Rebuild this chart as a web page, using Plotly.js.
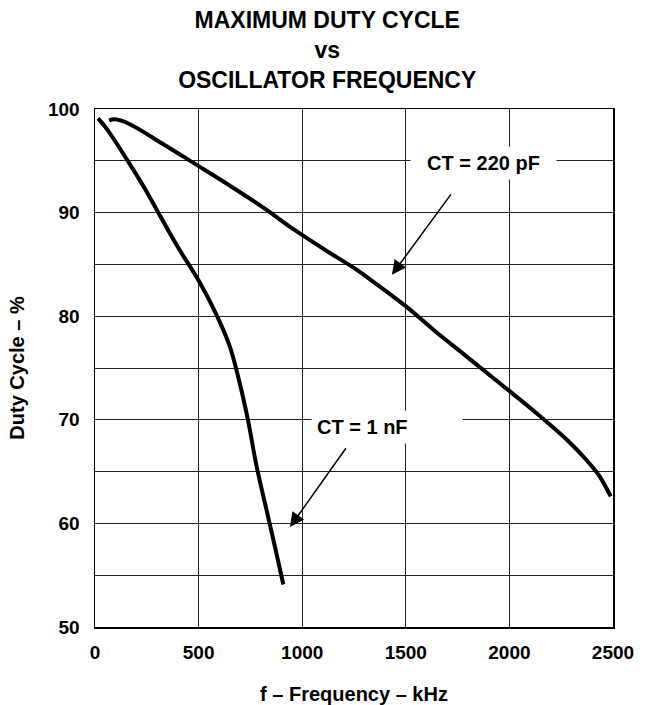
<!DOCTYPE html>
<html>
<head>
<meta charset="utf-8">
<script src="https://cdn.plot.ly/plotly-3.0.1.min.js"></script>
<style>html,body{margin:0;padding:0;background:#fff;}</style>
</head>
<body>
<div id="chart" style="width:648px;height:705px;"></div>
<script>
// CT = 220 pF curve
const freq220 = [68, 97, 161, 322, 483, 643, 804, 965, 1126, 1255, 1311, 1504, 1633, 1794, 1955, 2115, 2276, 2373, 2437, 2489];
const duty220 = [98.9, 99.0, 98.6, 96.7, 94.7, 92.7, 90.6, 88.3, 86.2, 84.6, 83.8, 80.9, 78.7, 76.1, 73.5, 70.9, 68.1, 66.1, 64.5, 62.6];
// CT = 1 nF curve
const freq1n = [15, 56, 161, 241, 322, 402, 507, 587, 652, 700, 740, 780, 829, 869, 909];
const duty1n = [99.1, 98.1, 94.9, 92.3, 89.4, 86.6, 83.2, 80.1, 77.0, 73.4, 69.8, 65.5, 61.2, 57.7, 54.1];

const xTicks = [0, 500, 1000, 1500, 2000, 2500];
const yTicks = [50, 60, 70, 80, 90, 100];

const labels = ['CT = 220 pF', 'CT = 1 nF'];
const labelPos = [[1873, 94.8], [1409, 69.3]];
const arrowTail = [[1723, 91.9], [1216, 67.4]];
const arrowHead = [[1433, 84.0], [941, 59.65]];

const FONT = 'Liberation Sans, Arial, Helvetica, sans-serif';

const traces = [
  {x: freq220, y: duty220, mode: 'lines', line: {color: '#000', width: 4, shape: 'spline', smoothing: 1}, hoverinfo: 'skip'},
  {x: freq1n, y: duty1n, mode: 'lines', line: {color: '#000', width: 4, shape: 'spline', smoothing: 1}, hoverinfo: 'skip'}
];

const annotations = [
  {x: labelPos[0][0], y: labelPos[0][1], xref: 'x', yref: 'y', text: labels[0], showarrow: false,
   bgcolor: '#fff', borderpad: 5, width: 135, font: {size: 20, color: '#000', family: FONT, weight: 'bold'}},
  {x: labelPos[1][0], y: labelPos[1][1], xref: 'x', yref: 'y', text: labels[1], showarrow: false,
   bgcolor: '#fff', borderpad: 5, width: 140, align: 'left', font: {size: 20, color: '#000', family: FONT, weight: 'bold'}}
];
for (let i = 0; i < 2; i++) {
  annotations.push({
    x: arrowHead[i][0], y: arrowHead[i][1], xref: 'x', yref: 'y',
    ax: arrowTail[i][0], ay: arrowTail[i][1], axref: 'x', ayref: 'y',
    text: '', showarrow: true, arrowhead: 2, arrowsize: 1.9, arrowwidth: 1.5, arrowcolor: '#000', standoff: 0
  });
}

const layout = {
  width: 648, height: 705,
  margin: {l: 95, r: 35, t: 109, b: 78},
  paper_bgcolor: '#fff', plot_bgcolor: '#fff',
  showlegend: false,
  font: {family: FONT, color: '#000', weight: 'bold'},
  title: {
    text: 'MAXIMUM DUTY CYCLE<br>vs<br>OSCILLATOR FREQUENCY',
    xref: 'container', x: 0.505, xanchor: 'center',
    yref: 'container', y: 0.96, yanchor: 'top',
    font: {size: 23, family: FONT, color: '#000', weight: 'bold'}
  },
  xaxis: {
    range: [0, 2500], tickvals: xTicks, ticktext: xTicks.map(String),
    showgrid: true, gridcolor: '#222', gridwidth: 1,
    showline: true, mirror: true, linecolor: '#000', linewidth: 1.5,
    zeroline: false, ticks: '', ticklabelstandoff: 8,
    tickfont: {size: 19, family: FONT, color: '#000', weight: 'bold'},
    title: {text: 'f – Frequency – kHz', standoff: 28, font: {size: 20, family: FONT, color: '#000', weight: 'bold'}}
  },
  yaxis: {
    range: [50, 100], tickvals: yTicks, ticktext: yTicks.map(String),
    showgrid: true, gridcolor: '#222', gridwidth: 1,
    minor: {dtick: 5, tick0: 50, showgrid: true, gridcolor: '#222', gridwidth: 1, ticks: ''},
    showline: true, mirror: true, linecolor: '#000', linewidth: 1.5,
    zeroline: false, ticks: '', ticklabelstandoff: 10,
    tickfont: {size: 19, family: FONT, color: '#000', weight: 'bold'},
    title: {text: 'Duty Cycle – %', standoff: 18, font: {size: 20, family: FONT, color: '#000', weight: 'bold'}}
  },
  annotations: annotations
};

Plotly.newPlot('chart', traces, layout, {staticPlot: true, displayModeBar: false});
</script>
</body>
</html>
